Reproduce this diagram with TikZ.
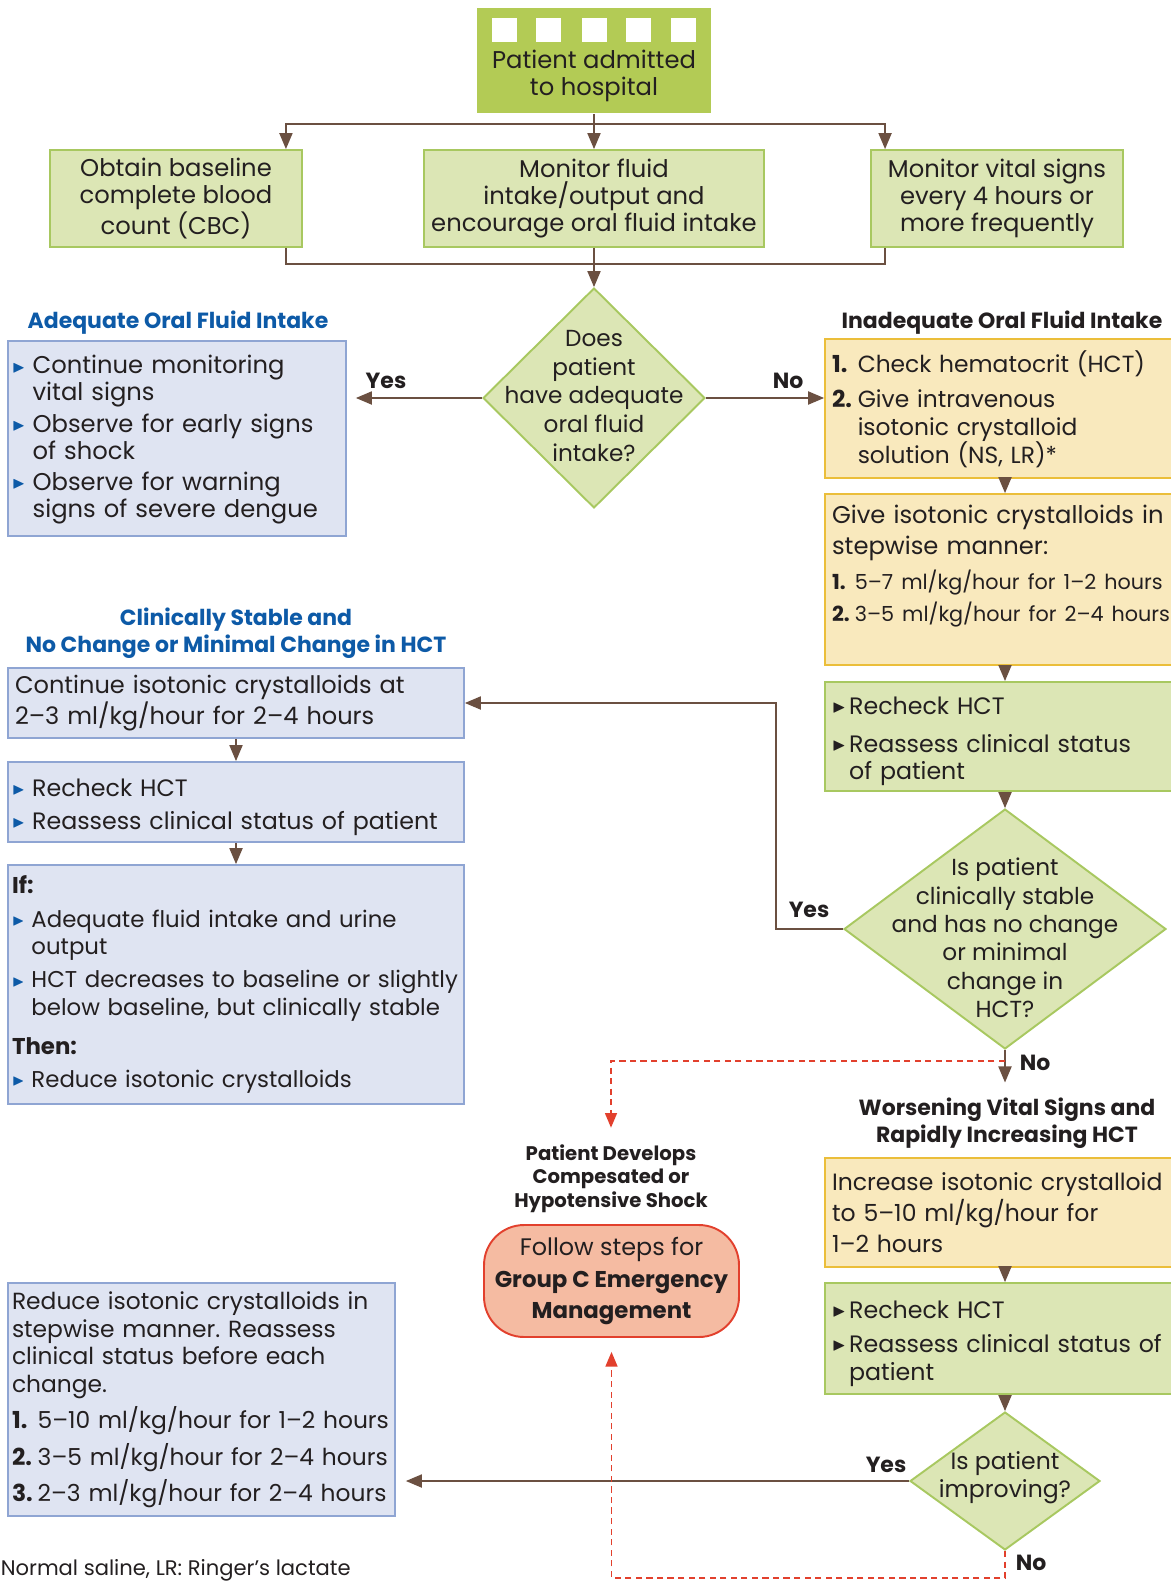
\documentclass[tikz,border=0pt]{standalone}
\usepackage{fontspec}
\setmainfont{Poppins}
\usepackage{amssymb}
\usepackage{graphicx}
\usetikzlibrary{arrows}
\usetikzlibrary{shapes.geometric}

\definecolor{ink}{HTML}{231F20}
\definecolor{topgreen}{HTML}{B3CB55}
\definecolor{lightgreen}{HTML}{DCE6B5}
\definecolor{greenline}{HTML}{A8C860}
\definecolor{arrowbrown}{HTML}{6B5041}
\definecolor{bluefill}{HTML}{DFE4F2}
\definecolor{blueline}{HTML}{8FA5D3}
\definecolor{titleblue}{HTML}{0D5AA7}
\definecolor{yellowfill}{HTML}{F9E9BD}
\definecolor{yellowline}{HTML}{EBBE3A}
\definecolor{salmon}{HTML}{F5BBA2}
\definecolor{redline}{HTML}{E2402D}

\newcommand{\hangitem}[2]{\par\noindent\hangindent=#1\hangafter=1\makebox[#1][l]{#2}}
\newcommand{\bluebul}{\hangitem{0.85em}{\textcolor{titleblue}{\raisebox{0.15ex}{\scalebox{0.7}{$\blacktriangleright$}}}}}
\newcommand{\blackbul}{\hangitem{0.72em}{\raisebox{0.15ex}{\scalebox{0.75}{$\blacktriangleright$}}}}
\newcommand{\numit}[1]{\hangitem{1.1em}{\textbf{#1.}}}
\newcommand{\itemgap}[1][3pt]{\par\vspace{#1}}
\frenchspacing

\begin{document}
\begin{tikzpicture}[x=0.02cm, y=-0.02cm, >=triangle 45, line width=1.1pt,
	every node/.style={text=ink, font=\fontsize{13.5}{15.8}\selectfont},
	box/.style={rectangle, draw, inner xsep=0.14cm, inner ysep=0.1cm, align=left},
	greenbox/.style={box, fill=lightgreen, draw=greenline},
	bluebox/.style={box, fill=bluefill, draw=blueline, inner xsep=0.08cm, text width=8.96cm},
	yellowbox/.style={box, fill=yellowfill, draw=yellowline, text width=6.92cm},
	decision/.style={diamond, fill=lightgreen, draw=greenline, inner sep=0pt},
	asks/.style={align=center, font=\fontsize{13.2}{16.4}\selectfont},
	heading/.style={align=center, font=\bfseries\fontsize{12.5}{15.3}\selectfont},
	answer/.style={font=\bfseries\fontsize{12.5}{15}\selectfont},
	flow/.style={draw=arrowbrown, ->},
	shock/.style={draw=redline, line width=0.9pt, dash pattern=on 3.5pt off 2.5pt, ->}]
\useasboundingbox (0,0) rectangle (1170,1581);

\node[rectangle, fill=topgreen, minimum width=4.68cm, minimum height=2.1cm] (admit) at (594,60.5) {};
\foreach \x in {504,548,594,638,683}
	\fill[white] (\x-12.5,18) rectangle (\x+12.5,42);
\node[align=center, font=\fontsize{13.8}{15.3}\selectfont] (admittext) at (594,76) {Patient admitted\\to hospital};

\node[greenbox, align=center, minimum width=5.04cm, minimum height=1.94cm, font=\fontsize{13.8}{15.5}\selectfont] (cbc) at (176,198.5) {Obtain baseline\\complete blood\\count (CBC)};
\node[greenbox, align=center, minimum width=6.7cm, minimum height=1.94cm, font=\fontsize{13.8}{15.5}\selectfont] (intake) at (594,198.5) {Monitor fluid\\intake/output and\\encourage oral fluid intake};
\node[greenbox, align=center, minimum width=5.04cm, minimum height=1.94cm, font=\fontsize{13.8}{15.5}\selectfont] (vitals) at (997,198.5) {Monitor vital signs\\every 4 hours or\\more frequently};

\coordinate (split) at (594,124);
\coordinate (merge) at (594,264);
\draw[flow] (admit) -- (split) -| ([xshift=-0.34cm]cbc.north east);
\draw[flow] (split) -- (intake);
\draw[flow] (split) -| ([xshift=0.3cm]vitals.north west);
\draw[arrowbrown] ([xshift=-0.34cm]cbc.south east) |- (merge) -| ([xshift=0.3cm]vitals.south west);

\node[decision, minimum width=4.44cm, minimum height=4.4cm] (dq1) at (594,398) {};
\node[asks] (dq1text) at (594,396) {Does\\patient\\have adequate\\oral fluid\\intake?};
\draw[flow] (intake) -- (dq1);

\node[heading, text=titleblue] (adqtitle) at (178,323) {Adequate Oral Fluid Intake};
\node[bluebox, text width=6.6cm, minimum height=3.9cm, font=\fontsize{13.8}{15.3}\selectfont] (adequate) at (177,438.5) {\bluebul Continue monitoring\newline vital signs\itemgap[2.5pt]\bluebul Observe for early signs\newline of shock\itemgap[2.5pt]\bluebul Observe for warning\newline signs of severe dengue\par\vspace{3.5pt}};
\node[answer] (yes1) at (386,381) {Yes};
\draw[flow, shorten >=0.18cm] (dq1.west) -- (dq1.west -| adequate.east);

\node[heading] (inadqtitle) at (1002,323) {Inadequate Oral Fluid Intake};
\node[yellowbox, minimum height=2.7cm, font=\fontsize{13.3}{16}\selectfont] (inadeq) at (1005,408.5) {\numit{1}Check hematocrit (HCT)\itemgap[4pt]\numit{2}Give intravenous\newline isotonic crystalloid\newline solution (NS, LR)*\par\vspace{3pt}};
\node[answer] (no1) at (788,381) {No};
\draw[flow] (dq1.east) -- (dq1.east -| inadeq.west);

\node[yellowbox, minimum height=3.42cm, font=\fontsize{13.8}{17.5}\selectfont] (stepwise) at (1005,579.5) {Give isotonic crystalloids in\newline stepwise manner:\itemgap[2pt]{\fontsize{11.8}{17.5}\selectfont\numit{1}5--7 ml/kg/hour for 1--2 hours\itemgap[1pt]\numit{2}3--5 ml/kg/hour for 2--4 hours\par}\itemgap[15pt]};
\draw[flow] (inadeq) -- (stepwise);

\node[greenbox, text width=6.92cm, minimum height=2.14cm] (recheckR) at (1005,736.5) {\blackbul Recheck HCT\itemgap[5.5pt]\blackbul Reassess clinical status\newline of patient\par};
\draw[flow] (stepwise) -- (recheckR);

\node[decision, minimum width=6.44cm, minimum height=4.8cm] (dq2) at (1005,929) {};
\node[asks, font=\fontsize{13.2}{16.2}\selectfont] (dq2text) at (1005,938) {Is patient\\clinically stable\\and has no change\\or minimal\\change in\\HCT?};
\draw[flow] (recheckR) -- (dq2);

\node[heading, text=titleblue] (stabletitle) at (236,633.5) {Clinically Stable and\\No Change or Minimal Change in HCT};
\node[bluebox, minimum height=1.4cm, inner xsep=0.14cm, text width=8.84cm, font=\fontsize{13.7}{15.8}\selectfont] (contL) at (236,703) {Continue isotonic crystalloids at\newline 2--3 ml/kg/hour for 2--4 hours};
\node[bluebox, minimum height=1.6cm] (recheckL) at (236,802) {\bluebul Recheck HCT\itemgap[3pt]\bluebul Reassess clinical status of patient\par};
\node[bluebox, minimum height=4.78cm, font=\fontsize{13}{15.8}\selectfont] (ifthen) at (236,984.5) {\textbf{If:}\itemgap[3.5pt]\bluebul Adequate fluid intake and urine\newline output\itemgap[3pt]\bluebul HCT decreases to baseline or slightly\newline below baseline, but clinically stable\itemgap[6.5pt]\textbf{Then:}\itemgap[3pt]\bluebul Reduce isotonic crystalloids\par};
\draw[flow] (contL) -- (recheckL);
\draw[flow] (recheckL) -- (ifthen);

\coordinate (bend) at (776,703);
\draw[flow] (dq2.west) -| (bend) -- (contL.east);
\node[answer] (yes2) at (809,910) {Yes};

\node[heading] (worsetitle) at (1007,1123.5) {Worsening Vital Signs and\\Rapidly Increasing HCT};
\coordinate (nosplit) at (1005,1061);
\draw[flow, shorten >=0.18cm] (dq2.south) -- (dq2.south |- worsetitle.north);
\node[answer] (no2) at (1035,1063) {No};

\node[heading, font=\bfseries\fontsize{11.2}{13.4}\selectfont] (shocktitle) at (611,1178.5) {Patient Develops\\Compesated or\\Hypotensive Shock};
\draw[shock, shorten >=0.2cm] (nosplit) -| (shocktitle.north);

\node[yellowbox, minimum height=2.18cm, font=\fontsize{13.4}{17.5}\selectfont] (increase) at (1005,1212.5) {Increase isotonic crystalloid\newline to 5--10 ml/kg/hour for\newline 1--2 hours};
\node[greenbox, text width=6.92cm, minimum height=2.22cm] (recheckW) at (1005,1338.5) {\blackbul Recheck HCT\itemgap[4pt]\blackbul Reassess clinical status of\newline patient\par};
\draw[flow] (increase) -- (recheckW);

\node[decision, minimum width=3.8cm, minimum height=2.76cm] (dq3) at (1005,1481) {};
\node[asks, font=\fontsize{13.4}{16}\selectfont] (dq3text) at (1005,1478) {Is patient\\improving?};
\draw[flow] (recheckW) -- (dq3);

\node[rectangle, rounded corners=0.8cm, draw=redline, fill=salmon, align=center, minimum width=5.1cm, minimum height=2.24cm, font=\fontsize{13.6}{17.7}\selectfont] (groupc) at (611.5,1281) {Follow steps for\\{\bfseries\fontsize{13}{17.7}\selectfont Group C Emergency}\\{\bfseries\fontsize{13}{17.7}\selectfont Management}};

\node[bluebox, text width=7.58cm, minimum height=4.66cm, font=\fontsize{13.3}{15.8}\selectfont] (reduce) at (201.5,1399.5) {Reduce isotonic crystalloids in\newline stepwise manner. Reassess\newline clinical status before each\newline change.\itemgap[3.5pt]\numit{1}5--10 ml/kg/hour for 1--2 hours\itemgap[3.5pt]\numit{2}3--5 ml/kg/hour for 2--4 hours\itemgap[3.5pt]\numit{3}2--3 ml/kg/hour for 2--4 hours\par};
\draw[flow, shorten >=0.2cm] (dq3.west) -- (dq3.west -| reduce.east);
\node[answer] (yes3) at (886,1465) {Yes};

\coordinate (nocorner) at (1005,1578);
\draw[shock, shorten >=0.28cm] (dq3.south) -- (nocorner) -| (groupc.south);
\node[answer] (no3) at (1031,1563) {No};

\node[anchor=west, font=\fontsize{12}{15}\selectfont] (note) at (-6,1570) {Normal saline, LR: Ringer’s lactate};
\end{tikzpicture}
\end{document}
